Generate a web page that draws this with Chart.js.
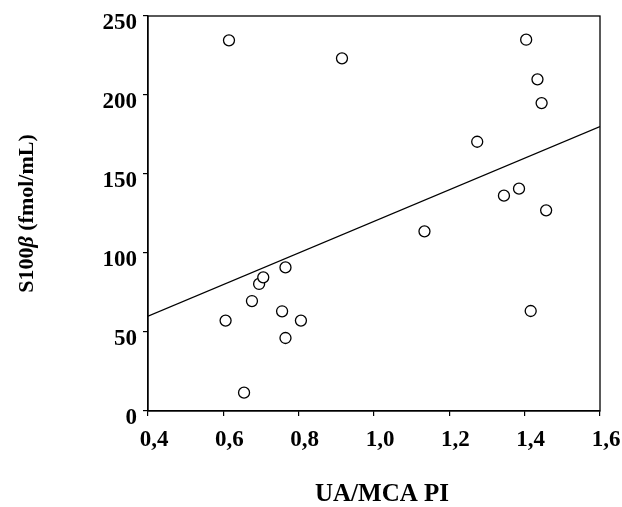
<!DOCTYPE html>
<html>
<head>
<meta charset="utf-8">
<script src="https://cdn.jsdelivr.net/npm/chart.js@4"></script>
<style>
  html, body { margin: 0; padding: 0; background: #fff; }
  #wrap { width: 622px; height: 507px; }
</style>
</head>
<body>
<div id="wrap"><canvas id="c" width="622" height="507"></canvas></div>
<script>
// Data
const piValues = [0.615, 0.915, 1.404, 1.434, 1.445, 1.274, 1.385, 1.345, 1.457, 0.606, 0.676, 0.695, 0.706, 0.765, 0.756, 0.806, 0.765, 0.655, 1.134, 1.416];
const s100Values = [234.6, 223.2, 235.0, 209.9, 194.9, 170.4, 140.7, 136.3, 127.0, 57.2, 69.6, 80.4, 84.6, 90.9, 63.1, 57.2, 46.2, 11.6, 113.7, 63.3];
const fitX = [0.4, 1.6];
const fitY = [60, 180];
const xTicks = [0.4, 0.6, 0.8, 1.0, 1.2, 1.4, 1.6];
const yTicks = [0, 50, 100, 150, 200, 250];
const xTitle = 'UA/MCA PI';
const yTitleParts = ['S100', '\u03B2', ' (fmol/mL)'];

const scatterPts = piValues.map((x, i) => ({ x: x, y: s100Values[i] }));
const fitPts = fitX.map((x, i) => ({ x: x, y: fitY[i] }));

const FONT = '"Liberation Serif", "Times New Roman", serif';

const frame = {
  id: 'frame',
  afterDatasetsDraw(chart) {
    const a = chart.chartArea, ctx = chart.ctx;
    ctx.save();
    ctx.strokeStyle = '#000';
    ctx.lineWidth = 1.3;
    ctx.strokeRect(a.left, a.top, a.right - a.left, a.bottom - a.top);
    ctx.restore();
  }
};

// Axis titles drawn as real text (y title has an italic beta)
const titlesPlugin = {
  id: 'titles',
  afterDraw(chart) {
    const a = chart.chartArea, ctx = chart.ctx;
    // y title
    const fonts = ['bold 22px ' + FONT, 'italic bold 22px ' + FONT, 'bold 22px ' + FONT];
    const widths = yTitleParts.map((t, i) => { ctx.font = fonts[i]; return ctx.measureText(t).width; });
    const total = widths.reduce((s, w) => s + w, 0);
    ctx.save();
    ctx.fillStyle = '#000';
    ctx.translate(27, (a.top + a.bottom) / 2);
    ctx.rotate(-Math.PI / 2);
    ctx.textBaseline = 'middle';
    ctx.textAlign = 'left';
    let x = -total / 2;
    yTitleParts.forEach((t, i) => {
      ctx.font = fonts[i];
      ctx.fillText(t, x, 0);
      x += widths[i];
    });
    ctx.restore();
    // x title
    ctx.save();
    ctx.fillStyle = '#000';
    ctx.font = 'bold 25px ' + FONT;
    ctx.textAlign = 'center';
    ctx.textBaseline = 'middle';
    ctx.fillText(xTitle, (a.left + a.right) / 2 + 8, 495);
    ctx.restore();
  }
};

new Chart(document.getElementById('c'), {
  type: 'scatter',
  data: {
    datasets: [
      {
        type: 'line',
        data: fitPts,
        borderColor: '#000',
        borderWidth: 1.4,
        pointRadius: 0,
        fill: false,
        order: 2
      },
      {
        data: scatterPts,
        pointRadius: 5.5,
        pointBorderWidth: 1.3,
        pointBackgroundColor: '#fff',
        pointBorderColor: '#000',
        order: 1
      }
    ]
  },
  plugins: [frame, titlesPlugin],
  options: {
    responsive: false,
    animation: false,
    devicePixelRatio: 1,
    layout: { padding: { left: 0, top: 16, right: 22, bottom: 0 } },
    plugins: { legend: { display: false }, tooltip: { enabled: false } },
    scales: {
      x: {
        type: 'linear',
        min: 0.4, max: 1.6,
        afterFit(s) { s.height = 96; s.paddingLeft = 0; s.paddingRight = 0; },
        afterBuildTicks(s) { s.ticks = xTicks.map(v => ({ value: v })); },
        grid: { display: true, drawOnChartArea: false, drawTicks: true, tickLength: 5, color: '#000', lineWidth: 1.2 },
        border: { display: true, color: '#000', width: 1.3 },
        ticks: {
          color: '#000', padding: 10, labelOffset: 6,
          font: { family: FONT, size: 23, weight: 'bold' },
          callback: v => v.toFixed(1).replace('.', ',')
        },
        title: { display: false }
      },
      y: {
        type: 'linear',
        min: 0, max: 250,
        afterFit(s) { s.width = 148; s.paddingTop = 0; s.paddingBottom = 0; },
        afterBuildTicks(s) { s.ticks = yTicks.map(v => ({ value: v })); },
        grid: { display: true, drawOnChartArea: false, drawTicks: true, tickLength: 5, color: '#000', lineWidth: 1.2 },
        border: { display: true, color: '#000', width: 1.3 },
        ticks: {
          color: '#000', padding: 6, labelOffset: 7,
          font: { family: FONT, size: 23, weight: 'bold' }
        },
        title: { display: false }
      }
    }
  }
});
</script>
</body>
</html>
